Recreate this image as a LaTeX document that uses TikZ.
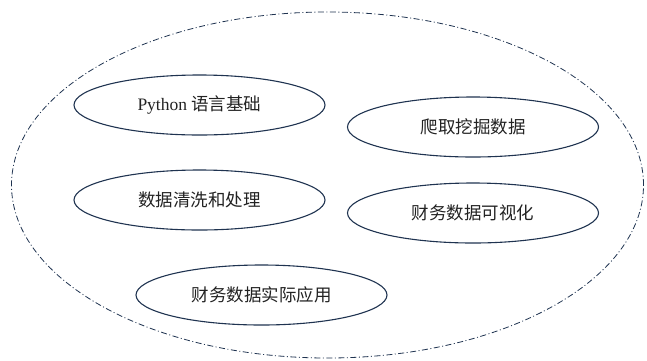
\documentclass[tikz,border=0pt]{standalone}
\usepackage{fontspec}
\setmainfont{Liberation Serif}
\newfontfamily\cjk{Noto Sans CJK SC}
\usetikzlibrary{shapes.geometric}
\definecolor{navy}{HTML}{1F3350}
\definecolor{txt}{HTML}{222222}
\tikzset{
  topic/.style={draw=navy, line width=1.1pt, ellipse, minimum width=251pt, minimum height=60pt, inner sep=0pt, text=txt, font=\fontsize{17.5}{20}\selectfont},
  frame/.style={draw=navy, line width=0.8pt, dash pattern=on 6pt off 2.5pt on 1pt off 2.5pt}
}
\begin{document}
\begin{tikzpicture}[x=1pt,y=1pt]
\useasboundingbox (0,0) rectangle (647,-360);
\node[frame, ellipse, minimum width=632pt, minimum height=346pt, inner sep=0pt] (outer) at (327.5,-185) {};
\node[topic] (python) at (199.5,-105) {Python {\cjk 语言基础}};
\node[topic] (crawl) at (473,-127) {\cjk 爬取挖掘数据};
\node[topic] (clean) at (199.5,-200) {\cjk 数据清洗和处理};
\node[topic] (vis) at (473,-213) {\cjk 财务数据可视化};
\node[topic] (apply) at (261.5,-295) {\cjk 财务数据实际应用};
\end{tikzpicture}
\end{document}
